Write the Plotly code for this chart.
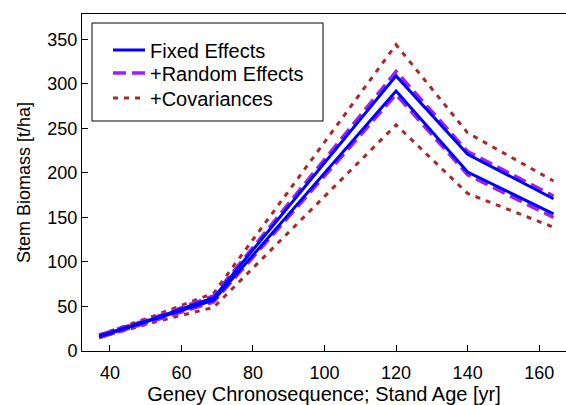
import plotly.graph_objects as go

# Stand age [yr]
age = [37, 52, 69, 120, 140, 164]

# Stem biomass [t/ha] bounds per model
fixed_upper = [17, 36, 60, 309, 221, 171]
fixed_lower = [16, 35, 57, 292, 201, 154]
random_upper = [18, 37, 62, 314, 224, 174]
random_lower = [15, 34, 55, 288, 198, 150]
cov_upper = [18, 39, 65, 344, 245, 191]
cov_lower = [15, 32, 49, 254, 177, 139]

x_ticks = [40, 60, 80, 100, 120, 140, 160]
y_ticks = [0, 50, 100, 150, 200, 250, 300, 350]

FONT = "Arial, 'Liberation Sans', sans-serif"
blue = "#0000FF"
purple = "#A020F0"
red = "#A52A2A"

# plot-area geometry (pixels) used to place legend rows in paper coordinates
L, T, W, H = 82, 14, 484, 337
def px(xp):
    return (xp - L) / W
def py(yp):
    return (T + H - yp) / H

fig = go.Figure()

for ys, show in ((cov_upper, True), (cov_lower, False)):
    fig.add_trace(go.Scatter(x=age, y=ys, mode="lines", name="+Covariances",
                             legendgroup="cov", showlegend=show, legend="legend3",
                             line=dict(color=red, width=3, dash="5px,6px")))
for ys, show in ((random_upper, True), (random_lower, False)):
    fig.add_trace(go.Scatter(x=age, y=ys, mode="lines", name="+Random Effects",
                             legendgroup="rand", showlegend=show, legend="legend2",
                             line=dict(color=purple, width=3.5, dash="13px,6px")))
for ys, show in ((fixed_upper, True), (fixed_lower, False)):
    fig.add_trace(go.Scatter(x=age, y=ys, mode="lines", name="Fixed Effects",
                             legendgroup="fixed", showlegend=show, legend="legend",
                             line=dict(color=blue, width=3)))

leg_common = dict(xanchor="left", yanchor="middle", bgcolor="rgba(0,0,0,0)",
                  borderwidth=0, itemwidth=32,
                  font=dict(family=FONT, size=20, color="black"))

fig.update_layout(
    width=566, height=405,
    margin=dict(l=L, r=0, t=T, b=405 - T - H),
    paper_bgcolor="white", plot_bgcolor="white",
    font=dict(family=FONT, size=18, color="black"),
    showlegend=True,
    legend=dict(x=px(108), y=py(50), **leg_common),
    legend2=dict(x=px(108), y=py(73), **leg_common),
    legend3=dict(x=px(108), y=py(98), **leg_common),
    shapes=[dict(type="rect", xref="paper", yref="paper",
                 x0=px(92), x1=px(323), y0=py(121), y1=py(23),
                 line=dict(color="black", width=1), fillcolor="white", layer="above")],
    xaxis=dict(range=[32.2, 167.5], tickvals=x_ticks, ticks="inside", ticklen=6,
               tickcolor="black", showline=True, linecolor="black", linewidth=1,
               mirror=True, showgrid=False, zeroline=False, ticklabelstandoff=5,
               title=dict(text="Geney Chronosequence; Stand Age [yr]", standoff=3,
                          font=dict(size=20)),
               tickfont=dict(size=18)),
    yaxis=dict(range=[0, 378.5], tickvals=y_ticks, ticks="inside", ticklen=6,
               tickcolor="black", showline=True, linecolor="black", linewidth=1,
               mirror=False, showgrid=False, zeroline=False,
               title=dict(text="Stem Biomass [t/ha]", standoff=12, font=dict(size=18)),
               tickfont=dict(size=18)),
)

fig.write_html("out.html", config={"displayModeBar": False},
               post_script="document.body.style.margin='0';document.body.style.padding='0';")
